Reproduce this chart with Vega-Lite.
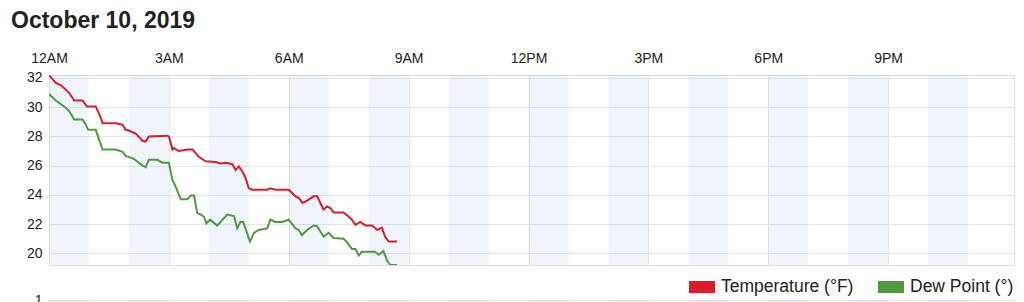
{
  "$schema": "https://vega.github.io/schema/vega-lite/v6.json",
  "padding": {"left": 10, "top": 9, "right": 5, "bottom": 0},
  "background": "white",
  "config": {
    "font": "Liberation Sans",
    "view": {"stroke": "#dedede", "strokeWidth": 1},
    "axis": {"gridColor": "#e6e6e6", "gridWidth": 1, "labelColor": "#222", "labelFontSize": 14, "labelFont": "Liberation Sans", "ticks": false, "domain": false, "title": null, "labelFlush": false},
    "legend": {"layout": {"bottom": {"anchor": "end"}}}
  },
  "datasets": {
    "bands": [
      {"start": 0, "end": 1}, {"start": 2, "end": 3}, {"start": 4, "end": 5}, {"start": 6, "end": 7},
      {"start": 8, "end": 9}, {"start": 10, "end": 11}, {"start": 12, "end": 13}, {"start": 14, "end": 15},
      {"start": 16, "end": 17}, {"start": 18, "end": 19}, {"start": 20, "end": 21}, {"start": 22, "end": 23}
    ],
    "weather": [
      {"series": "Temperature (°F)", "t": 0.00, "v": 32.2},
      {"series": "Temperature (°F)", "t": 0.17, "v": 31.65},
      {"series": "Temperature (°F)", "t": 0.30, "v": 31.5},
      {"series": "Temperature (°F)", "t": 0.50, "v": 31.0},
      {"series": "Temperature (°F)", "t": 0.63, "v": 30.45},
      {"series": "Temperature (°F)", "t": 0.84, "v": 30.45},
      {"series": "Temperature (°F)", "t": 0.95, "v": 30.05},
      {"series": "Temperature (°F)", "t": 1.17, "v": 30.05},
      {"series": "Temperature (°F)", "t": 1.30, "v": 29.25},
      {"series": "Temperature (°F)", "t": 1.34, "v": 28.9},
      {"series": "Temperature (°F)", "t": 1.67, "v": 28.9},
      {"series": "Temperature (°F)", "t": 1.84, "v": 28.8},
      {"series": "Temperature (°F)", "t": 1.92, "v": 28.45},
      {"series": "Temperature (°F)", "t": 2.00, "v": 28.4},
      {"series": "Temperature (°F)", "t": 2.17, "v": 28.2},
      {"series": "Temperature (°F)", "t": 2.34, "v": 27.7},
      {"series": "Temperature (°F)", "t": 2.42, "v": 27.65},
      {"series": "Temperature (°F)", "t": 2.50, "v": 28.0},
      {"series": "Temperature (°F)", "t": 2.96, "v": 28.05},
      {"series": "Temperature (°F)", "t": 3.00, "v": 28.0},
      {"series": "Temperature (°F)", "t": 3.09, "v": 27.1},
      {"series": "Temperature (°F)", "t": 3.13, "v": 27.2},
      {"series": "Temperature (°F)", "t": 3.25, "v": 27.0},
      {"series": "Temperature (°F)", "t": 3.46, "v": 27.1},
      {"series": "Temperature (°F)", "t": 3.59, "v": 27.1},
      {"series": "Temperature (°F)", "t": 3.75, "v": 26.6},
      {"series": "Temperature (°F)", "t": 3.92, "v": 26.3},
      {"series": "Temperature (°F)", "t": 4.17, "v": 26.25},
      {"series": "Temperature (°F)", "t": 4.29, "v": 26.15},
      {"series": "Temperature (°F)", "t": 4.42, "v": 26.2},
      {"series": "Temperature (°F)", "t": 4.59, "v": 26.1},
      {"series": "Temperature (°F)", "t": 4.67, "v": 25.7},
      {"series": "Temperature (°F)", "t": 4.75, "v": 25.95},
      {"series": "Temperature (°F)", "t": 4.84, "v": 25.6},
      {"series": "Temperature (°F)", "t": 4.92, "v": 25.15},
      {"series": "Temperature (°F)", "t": 5.00, "v": 24.45},
      {"series": "Temperature (°F)", "t": 5.09, "v": 24.35},
      {"series": "Temperature (°F)", "t": 5.46, "v": 24.35},
      {"series": "Temperature (°F)", "t": 5.54, "v": 24.45},
      {"series": "Temperature (°F)", "t": 5.67, "v": 24.35},
      {"series": "Temperature (°F)", "t": 6.00, "v": 24.35},
      {"series": "Temperature (°F)", "t": 6.17, "v": 23.9},
      {"series": "Temperature (°F)", "t": 6.25, "v": 23.8},
      {"series": "Temperature (°F)", "t": 6.34, "v": 23.45},
      {"series": "Temperature (°F)", "t": 6.46, "v": 23.6},
      {"series": "Temperature (°F)", "t": 6.62, "v": 23.9},
      {"series": "Temperature (°F)", "t": 6.71, "v": 23.9},
      {"series": "Temperature (°F)", "t": 6.87, "v": 23.0},
      {"series": "Temperature (°F)", "t": 6.96, "v": 23.2},
      {"series": "Temperature (°F)", "t": 7.04, "v": 23.1},
      {"series": "Temperature (°F)", "t": 7.12, "v": 22.8},
      {"series": "Temperature (°F)", "t": 7.37, "v": 22.8},
      {"series": "Temperature (°F)", "t": 7.46, "v": 22.6},
      {"series": "Temperature (°F)", "t": 7.58, "v": 22.3},
      {"series": "Temperature (°F)", "t": 7.67, "v": 21.95},
      {"series": "Temperature (°F)", "t": 7.79, "v": 22.15},
      {"series": "Temperature (°F)", "t": 7.92, "v": 21.9},
      {"series": "Temperature (°F)", "t": 8.09, "v": 21.9},
      {"series": "Temperature (°F)", "t": 8.21, "v": 21.6},
      {"series": "Temperature (°F)", "t": 8.33, "v": 21.75},
      {"series": "Temperature (°F)", "t": 8.41, "v": 21.15},
      {"series": "Temperature (°F)", "t": 8.50, "v": 20.8},
      {"series": "Temperature (°F)", "t": 8.71, "v": 20.8},
      {"series": "Dew Point (°)", "t": 0.00, "v": 30.9},
      {"series": "Dew Point (°)", "t": 0.17, "v": 30.45},
      {"series": "Dew Point (°)", "t": 0.38, "v": 30.05},
      {"series": "Dew Point (°)", "t": 0.50, "v": 29.75},
      {"series": "Dew Point (°)", "t": 0.63, "v": 29.15},
      {"series": "Dew Point (°)", "t": 0.84, "v": 29.15},
      {"series": "Dew Point (°)", "t": 0.92, "v": 28.8},
      {"series": "Dew Point (°)", "t": 0.98, "v": 28.45},
      {"series": "Dew Point (°)", "t": 1.17, "v": 28.45},
      {"series": "Dew Point (°)", "t": 1.34, "v": 27.1},
      {"series": "Dew Point (°)", "t": 1.67, "v": 27.1},
      {"series": "Dew Point (°)", "t": 1.84, "v": 26.95},
      {"series": "Dew Point (°)", "t": 1.92, "v": 26.65},
      {"series": "Dew Point (°)", "t": 2.00, "v": 26.6},
      {"series": "Dew Point (°)", "t": 2.13, "v": 26.45},
      {"series": "Dew Point (°)", "t": 2.34, "v": 26.0},
      {"series": "Dew Point (°)", "t": 2.42, "v": 25.9},
      {"series": "Dew Point (°)", "t": 2.50, "v": 26.4},
      {"series": "Dew Point (°)", "t": 2.71, "v": 26.4},
      {"series": "Dew Point (°)", "t": 2.84, "v": 26.2},
      {"series": "Dew Point (°)", "t": 3.00, "v": 26.2},
      {"series": "Dew Point (°)", "t": 3.09, "v": 25.0},
      {"series": "Dew Point (°)", "t": 3.13, "v": 24.8},
      {"series": "Dew Point (°)", "t": 3.30, "v": 23.7},
      {"series": "Dew Point (°)", "t": 3.46, "v": 23.7},
      {"series": "Dew Point (°)", "t": 3.55, "v": 23.95},
      {"series": "Dew Point (°)", "t": 3.63, "v": 23.95},
      {"series": "Dew Point (°)", "t": 3.71, "v": 22.75},
      {"series": "Dew Point (°)", "t": 3.80, "v": 22.65},
      {"series": "Dew Point (°)", "t": 3.88, "v": 22.5},
      {"series": "Dew Point (°)", "t": 3.94, "v": 22.05},
      {"series": "Dew Point (°)", "t": 4.03, "v": 22.3},
      {"series": "Dew Point (°)", "t": 4.21, "v": 21.9},
      {"series": "Dew Point (°)", "t": 4.46, "v": 22.65},
      {"series": "Dew Point (°)", "t": 4.63, "v": 22.55},
      {"series": "Dew Point (°)", "t": 4.71, "v": 21.7},
      {"series": "Dew Point (°)", "t": 4.79, "v": 22.15},
      {"series": "Dew Point (°)", "t": 4.86, "v": 22.15},
      {"series": "Dew Point (°)", "t": 5.03, "v": 20.8},
      {"series": "Dew Point (°)", "t": 5.13, "v": 21.4},
      {"series": "Dew Point (°)", "t": 5.25, "v": 21.6},
      {"series": "Dew Point (°)", "t": 5.46, "v": 21.7},
      {"series": "Dew Point (°)", "t": 5.54, "v": 22.3},
      {"series": "Dew Point (°)", "t": 5.67, "v": 22.15},
      {"series": "Dew Point (°)", "t": 5.83, "v": 22.15},
      {"series": "Dew Point (°)", "t": 6.00, "v": 22.3},
      {"series": "Dew Point (°)", "t": 6.17, "v": 21.7},
      {"series": "Dew Point (°)", "t": 6.25, "v": 21.6},
      {"series": "Dew Point (°)", "t": 6.33, "v": 21.25},
      {"series": "Dew Point (°)", "t": 6.46, "v": 21.6},
      {"series": "Dew Point (°)", "t": 6.62, "v": 21.9},
      {"series": "Dew Point (°)", "t": 6.71, "v": 21.85},
      {"series": "Dew Point (°)", "t": 6.87, "v": 21.15},
      {"series": "Dew Point (°)", "t": 7.00, "v": 21.4},
      {"series": "Dew Point (°)", "t": 7.12, "v": 21.05},
      {"series": "Dew Point (°)", "t": 7.37, "v": 21.0},
      {"series": "Dew Point (°)", "t": 7.46, "v": 20.75},
      {"series": "Dew Point (°)", "t": 7.58, "v": 20.3},
      {"series": "Dew Point (°)", "t": 7.67, "v": 20.3},
      {"series": "Dew Point (°)", "t": 7.75, "v": 19.85},
      {"series": "Dew Point (°)", "t": 7.83, "v": 20.1},
      {"series": "Dew Point (°)", "t": 8.16, "v": 20.1},
      {"series": "Dew Point (°)", "t": 8.25, "v": 19.9},
      {"series": "Dew Point (°)", "t": 8.37, "v": 20.15},
      {"series": "Dew Point (°)", "t": 8.46, "v": 19.5},
      {"series": "Dew Point (°)", "t": 8.54, "v": 19.2},
      {"series": "Dew Point (°)", "t": 8.71, "v": 19.2}
    ]
  },
  "bounds": "flush",
  "spacing": 35,
  "resolve": {"legend": {"color": "independent"}},
  "vconcat": [
    {
      "width": 965,
      "height": 190,
      "title": {"text": "October 10, 2019", "anchor": "start", "frame": "group", "dx": -38, "fontSize": 23, "fontWeight": "bold", "color": "#222", "font": "Liberation Sans", "offset": 18},
      "layer": [
        {
          "data": {"name": "bands"},
          "mark": {"type": "rect", "color": "#5f9bd7", "opacity": 0.1},
          "encoding": {
            "x": {"field": "start", "type": "quantitative",
              "scale": {"domain": [0, 24.15], "nice": false, "zero": false},
              "axis": {"orient": "top", "values": [0, 3, 6, 9, 12, 15, 18, 21], "grid": true, "labelPadding": 10,
                "labelExpr": "datum.value == 0 ? '12AM' : datum.value < 12 ? datum.value + 'AM' : datum.value == 12 ? '12PM' : (datum.value - 12) + 'PM'"}},
            "x2": {"field": "end"}
          }
        },
        {
          "data": {"name": "weather"},
          "mark": {"type": "line", "strokeWidth": 2, "clip": true},
          "encoding": {
            "x": {"field": "t", "type": "quantitative"},
            "y": {"field": "v", "type": "quantitative",
              "scale": {"domain": [19.2, 32.2], "nice": false, "zero": false},
              "axis": {"values": [20, 22, 24, 26, 28, 30, 32], "grid": true, "labelPadding": 7}},
            "color": {"field": "series", "type": "nominal",
              "scale": {"domain": ["Temperature (°F)", "Dew Point (°)"], "range": ["#d81e2a", "#4f9a3f"]},
              "legend": {"orient": "bottom", "direction": "horizontal", "title": null, "symbolType": "stroke", "symbolSize": 676, "symbolStrokeWidth": 12, "labelFontSize": 17.5, "labelColor": "#222", "labelFont": "Liberation Sans", "labelOffset": 0, "columnPadding": 0, "offset": 3}},
            "detail": {"field": "series"}
          }
        }
      ]
    },
    {
      "width": 965,
      "height": 120,
      "data": {"name": "bands"},
      "mark": {"type": "rect", "color": "#5f9bd7", "opacity": 0.1},
      "encoding": {
        "x": {"field": "start", "type": "quantitative",
          "scale": {"domain": [0, 24.15], "nice": false, "zero": false},
          "axis": {"orient": "top", "values": [0, 3, 6, 9, 12, 15, 18, 21], "grid": true, "labels": false}},
        "x2": {"field": "end"},
        "y": {"datum": 1, "type": "quantitative", "scale": {"domain": [0, 1], "nice": false}, "axis": {"values": [1], "grid": true, "labelPadding": 7, "title": null}},
        "y2": {"datum": 0}
      }
    }
  ]
}
